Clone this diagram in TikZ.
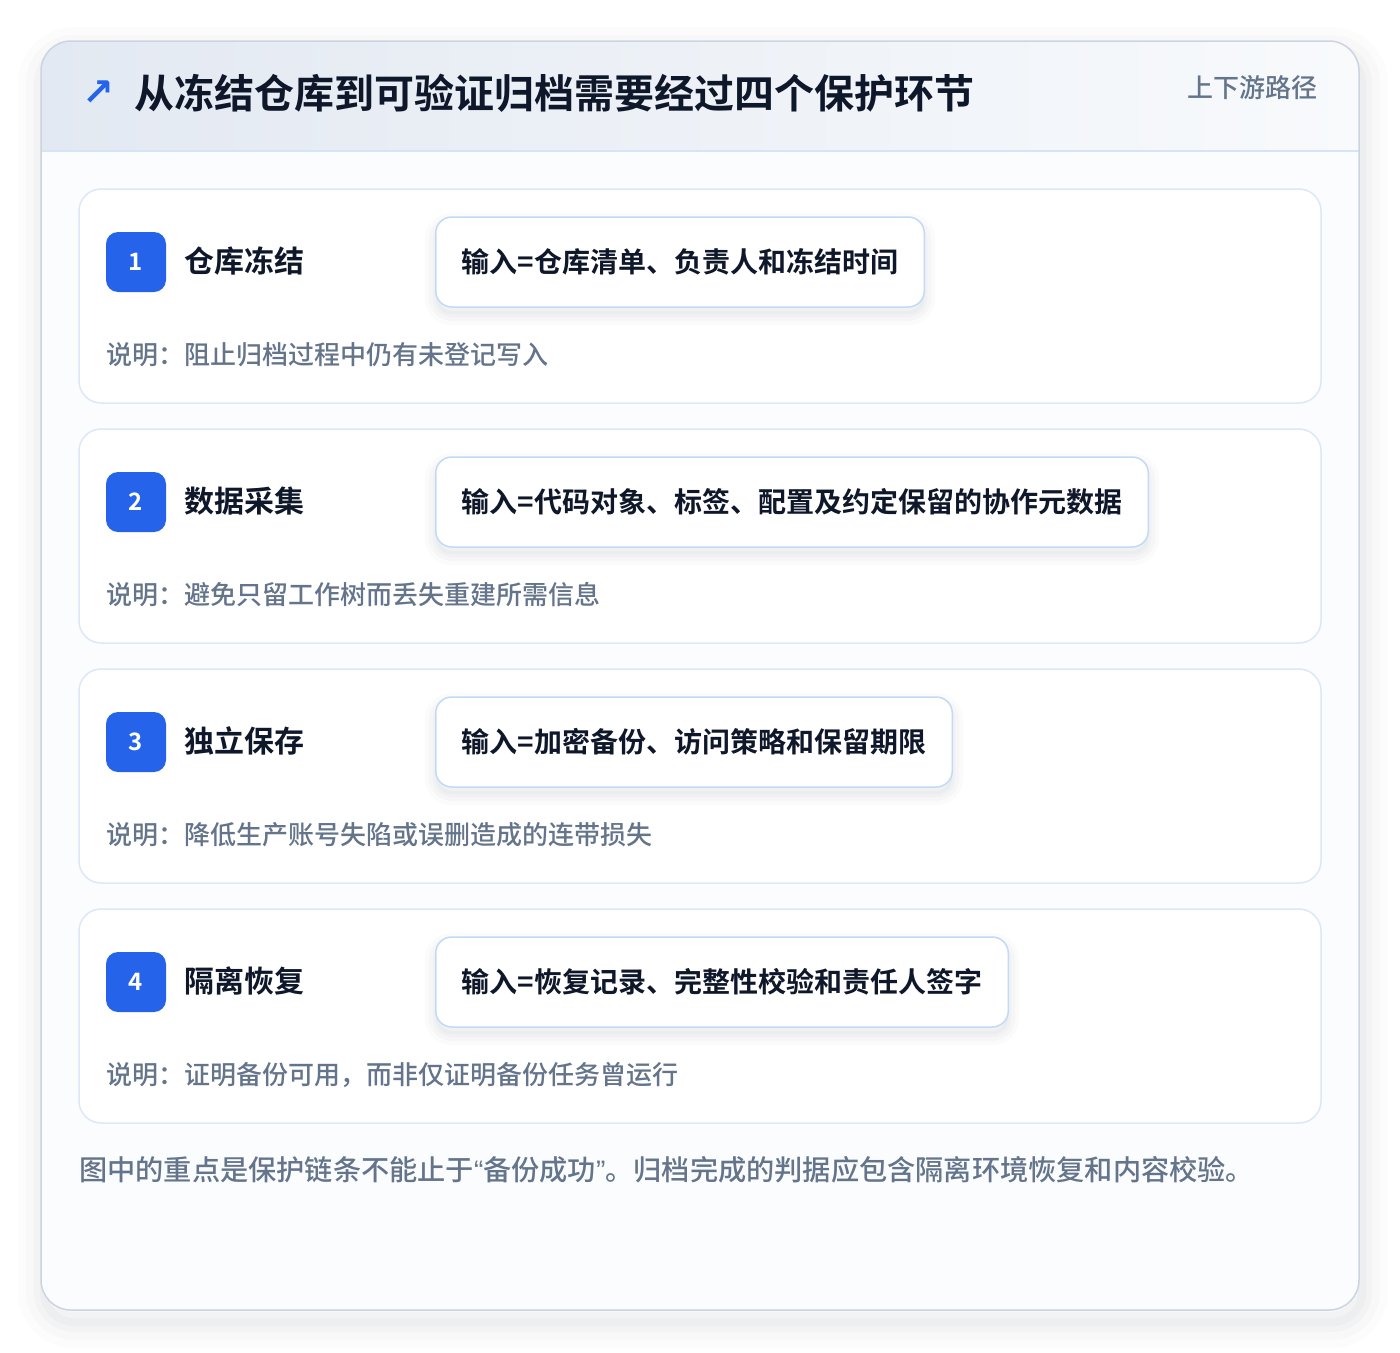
\documentclass[tikz,border=0pt]{standalone}
\usepackage{fontspec}
\setmainfont{Noto Sans CJK SC}[BoldFont={Noto Sans CJK SC Bold}]
\newfontfamily\medfont{Noto Sans CJK SC Medium}
\newfontfamily\symfont{DejaVu Sans}
\newfontfamily\latinfont{Liberation Sans}
\usetikzlibrary{positioning}

\definecolor{badgeblue}{HTML}{2563EB}
\definecolor{inkdark}{HTML}{0F172A}
\definecolor{inkgray}{HTML}{64748B}
\definecolor{cardline}{HTML}{DCE8F7}
\definecolor{boxline}{HTML}{C3DAF6}
\definecolor{framebg}{HTML}{FBFCFE}
\definecolor{frameline}{HTML}{CBD5E1}
\definecolor{headleft}{HTML}{E3E9F2}
\definecolor{headright}{HTML}{F8FAFC}
\definecolor{headline}{HTML}{D6E4F5}
\definecolor{shadowgray}{HTML}{1E293B}

\begin{document}
\begin{tikzpicture}[x=1pt,y=-1pt,
  card/.style={draw=cardline, line width=1.5pt, fill=white, rounded corners=22pt},
  badge/.style={fill=badgeblue, rounded corners=12pt, minimum size=60pt, inner sep=0pt,
    text=white, font=\bfseries\fontsize{24}{24}\selectfont},
  steptitle/.style={anchor=west, inner sep=0pt, text=inkdark, font=\bfseries\fontsize{30}{30}\selectfont},
  boxshadow/.style={
    preaction={draw=shadowgray, draw opacity=0.015, line width=22pt, transform canvas={yshift=-7pt}},
    preaction={draw=shadowgray, draw opacity=0.02, line width=14pt, transform canvas={yshift=-7pt}},
    preaction={draw=shadowgray, fill=shadowgray, opacity=0.025, line width=6pt, transform canvas={yshift=-7pt}}},
  frameshadow/.style={
    preaction={draw=shadowgray, draw opacity=0.012, line width=52pt, transform canvas={xshift=3pt, yshift=-12pt}},
    preaction={draw=shadowgray, draw opacity=0.015, line width=36pt, transform canvas={xshift=3pt, yshift=-12pt}},
    preaction={draw=shadowgray, draw opacity=0.02, line width=20pt, transform canvas={xshift=3pt, yshift=-12pt}},
    preaction={draw=shadowgray, draw opacity=0.025, line width=8pt, transform canvas={xshift=3pt, yshift=-12pt}}},
  inputbox/.style={anchor=west, draw=boxline, line width=1.5pt, fill=white, rounded corners=16pt,
    minimum height=90pt, inner xsep=26pt, text=inkdark, font=\bfseries\fontsize{28}{28}\selectfont, boxshadow},
  notetext/.style={anchor=west, inner sep=0pt, text=inkgray, font=\medfont\fontsize{26}{26}\selectfont}]
  \useasboundingbox (0,0) rectangle (1400,1352);
  \fill[white] (0,0) rectangle (1400,1352);

  % Frame
  \fill[framebg, rounded corners=30pt, frameshadow] (41,41) rectangle (1359,1310);
  \begin{scope}
    \clip[rounded corners=30pt] (41,41) rectangle (1359,1310);
    \shade[left color=headleft, right color=headright] (41,41) rectangle (1359,151);
    \fill[framebg] (41,151) rectangle (1359,1310);
  \end{scope}
  \draw[headline, line width=1.5pt] (41,151) -- (1359,151);
  \draw[frameline, line width=1.5pt, rounded corners=30pt] (41,41) rectangle (1359,1310);

  % Header
  \node[text=badgeblue, font=\symfont\bfseries\fontsize{38}{38}\selectfont, inner sep=0pt] (arrow) at (98,93) {↗};
  \node[anchor=west, inner sep=0pt, text=inkdark, font=\bfseries\fontsize{40}{40}\selectfont] (heading) at (134,93)
    {从冻结仓库到可验证归档需要经过四个保护环节};
  \node[anchor=east, inner sep=0pt, text=inkgray, font=\medfont\fontsize{26}{26}\selectfont] (route) at (1318,88)
    {上下游路径};

  % Steps
  \foreach \i/\name/\inp/\desc in {
    1/仓库冻结/输入=仓库清单、负责人和冻结时间/说明：阻止归档过程中仍有未登记写入,
    2/数据采集/输入=代码对象、标签、配置及约定保留的协作元数据/说明：避免只留工作树而丢失重建所需信息,
    3/独立保存/输入=加密备份、访问策略和保留期限/说明：降低生产账号失陷或误删造成的连带损失,
    4/隔离恢复/输入=恢复记录、完整性校验和责任人签字/说明：证明备份可用，而非仅证明备份任务曾运行}
  {
    \pgfmathsetmacro\cardtop{189+240*(\i-1)}
    \draw[card] (79,\cardtop) rectangle (1321,\cardtop+214);
    \node[badge] (badge\i) at (136,\cardtop+73) {\i};
    \node[steptitle] (title\i) at (184,\cardtop+72) {\name};
    \node[inputbox] (input\i) at (435,\cardtop+73) {\inp};
    \node[notetext] (note\i) at (106,\cardtop+166) {\desc};
  }

  % Footer
  \node[notetext, font=\medfont\fontsize{28.2}{28.2}\selectfont] (footer) at (79,1170)
    {图中的重点是保护链条不能止于{\latinfont “}备份成功{\latinfont ”}。归档完成的判据应包含隔离环境恢复和内容校验。};
\end{tikzpicture}
\end{document}
